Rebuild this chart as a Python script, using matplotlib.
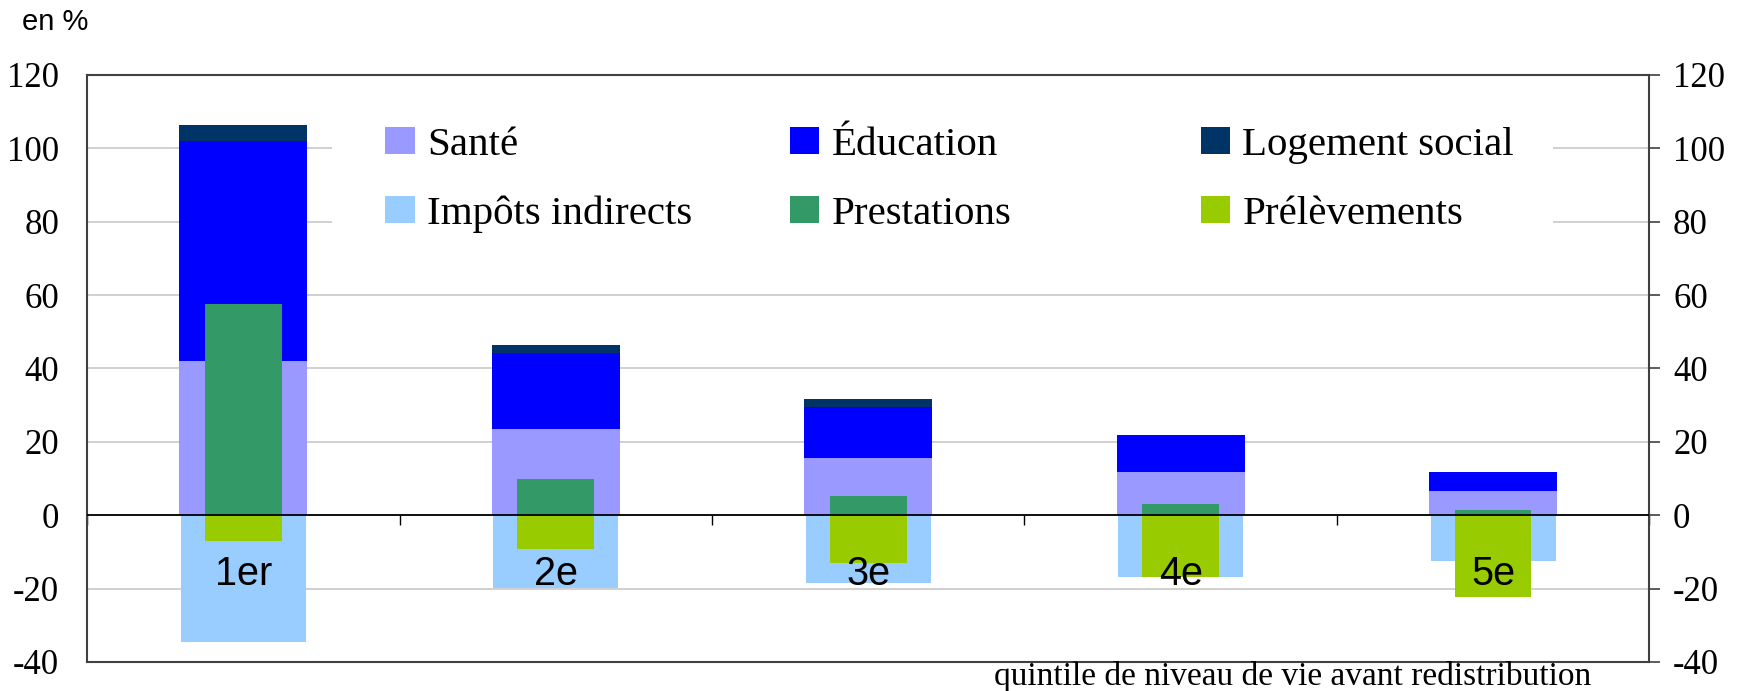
import matplotlib
matplotlib.use("Agg")
import matplotlib.pyplot as plt
import matplotlib.patches as mpatches
import numpy as np

# data (en %)
quintiles = ["1er", "2e", "3e", "4e", "5e"]
sante = [42.0, 23.6, 15.7, 11.9, 6.6]
education = [60.0, 20.5, 13.9, 10.0, 5.2]
logement = [4.3, 2.3, 2.2, 0.0, 0.0]
impots = [-34.5, -19.9, -18.6, -16.9, -12.6]
prestations = [57.5, 10.0, 5.2, 3.0, 1.4]
prelevements = [-7.0, -9.1, -13.1, -16.9, -22.4]

c_sante = '#9999ff'
c_educ = '#0000ff'
c_loge = '#003366'
c_impots = '#99ccff'
c_prest = '#339966'
c_prel = '#99cc00'

plt.rcParams['font.family'] = ['Liberation Serif', 'DejaVu Serif']
plt.rcParams['axes.unicode_minus'] = False
sans = 'Liberation Sans'

fig = plt.figure(figsize=(17.51, 6.91), dpi=100)
ax = fig.add_axes([0.0497, 0.042, 0.8923, 0.8495])

x = np.arange(len(quintiles)) + 0.5
wide = 0.41
narrow = 0.245

ax.bar(x, sante, width=wide, color=c_sante, zorder=3, label='Santé')
ax.bar(x, education, width=wide, bottom=sante, color=c_educ, zorder=3, label='Éducation')
ax.bar(x, logement, width=wide, bottom=np.add(sante, education), color=c_loge, zorder=3,
       label='Logement social')
ax.bar(x, impots, width=wide - 0.01, color=c_impots, zorder=3, label='Impôts indirects')
ax.bar(x, prestations, width=narrow, color=c_prest, zorder=4, label='Prestations')
ax.bar(x, prelevements, width=narrow, color=c_prel, zorder=4, label='Prélèvements')

for xi, q in zip(x, quintiles):
    ax.text(xi, -16, q, ha='center', va='center', fontsize=28.5, family=sans, zorder=6)

ax.set_xlim(0, 5)
ax.set_ylim(-40, 120)
ax.set_yticks(np.arange(-40, 121, 20))
ax.set_xticks([])
ax.grid(axis='y', color='#c8c8c8', linewidth=1.2, zorder=0)
ax.set_axisbelow(True)
ax.tick_params(axis='y', length=0, pad=20, labelsize=25)
for sp in ax.spines.values():
    sp.set_color('#404040')
    sp.set_linewidth(1.5)

# zero line drawn over the bars
ax.axhline(0, color='black', linewidth=1.3, zorder=5)

# right axis copy
ax2 = ax.twinx()
ax2.set_ylim(-40, 120)
ax2.set_yticks(np.arange(-40, 121, 20))
ax2.tick_params(axis='y', length=8, width=1.2, color='#404040', pad=9, labelsize=25)
for sp in ax2.spines.values():
    sp.set_visible(False)

# category separators on the zero line
zax = ax.secondary_xaxis(0.25)
zax.set_xticks(np.arange(0, 6))
zax.set_xticklabels([])
zax.tick_params(axis='x', direction='out', length=7, width=1.0, color='black')
zax.spines['bottom'].set_visible(False)

# white area behind legend hides gridlines
ax.add_patch(mpatches.Rectangle((0.157, 0.65), 0.781, 0.30, transform=ax.transAxes,
                                facecolor='white', edgecolor='none', zorder=1))

handles, labels = ax.get_legend_handles_labels()
cols = [[0, 3], [1, 4], [2, 5]]
col_x = [0.191, 0.450, 0.713]
for k, (idx, cx) in enumerate(zip(cols, col_x)):
    leg = ax.legend([handles[i] for i in idx], [labels[i] for i in idx],
                    loc='center left', bbox_to_anchor=(cx, 0.8215), frameon=False,
                    prop={'size': 29.5}, borderpad=0, borderaxespad=0,
                    handlelength=0.71, handleheight=0.64, handletextpad=0.3,
                    labelspacing=0.78)
    leg.set_zorder(7)
    if k < 2:
        ax.add_artist(leg)

fig.text(22 / 1751, 1 - 22 / 691, 'en %', fontsize=21, family=sans, va='center', ha='left')
fig.text(1591 / 1751, 1 - 676 / 691, 'quintile de niveau de vie avant redistribution',
         fontsize=24, va='center', ha='right')

fig.savefig('out.png', dpi=100)
